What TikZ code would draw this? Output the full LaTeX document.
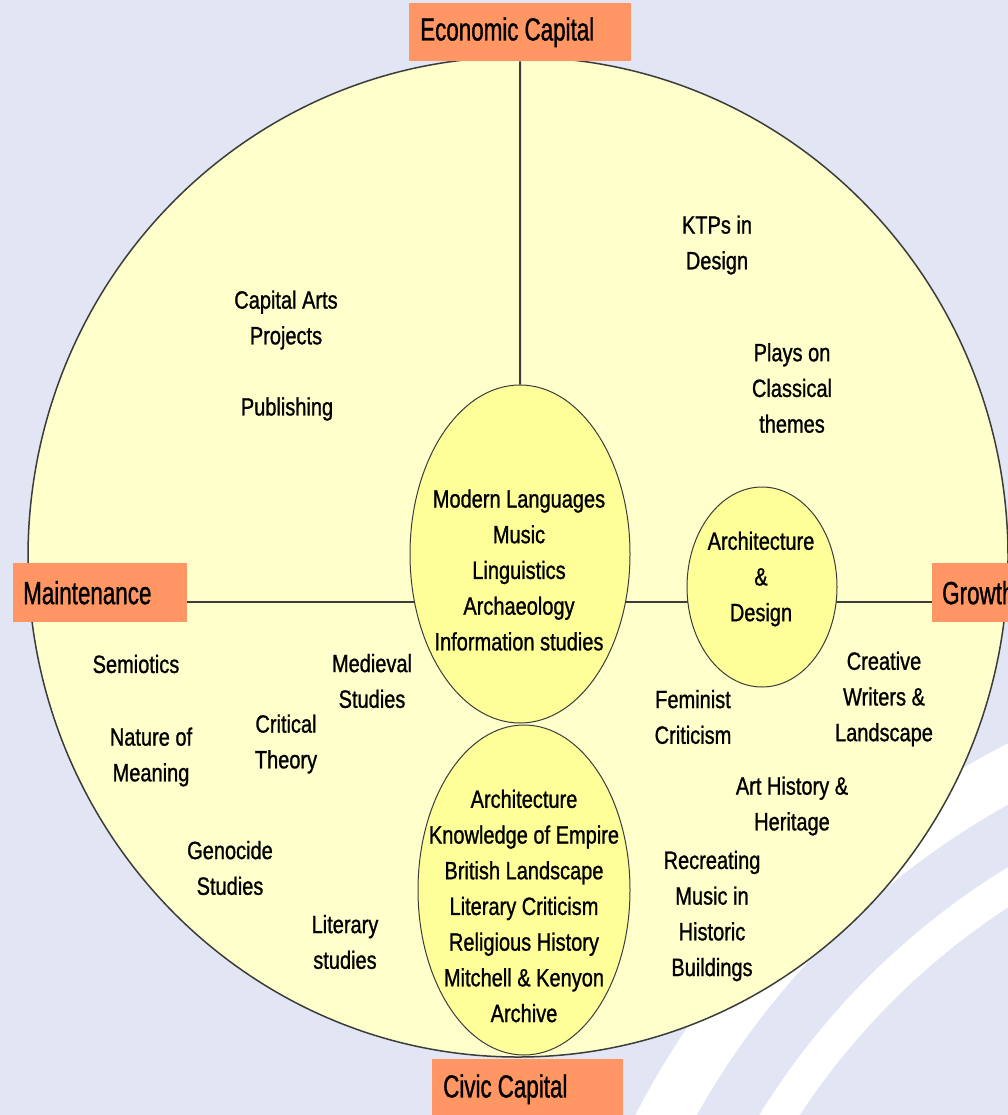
\documentclass[tikz,border=0pt]{standalone}
\usepackage{fontspec}
\newfontfamily\txtf[FakeStretch=0.8,FakeBold=1.0]{Liberation Sans}
\newfontfamily\labf[FakeStretch=0.7,FakeBold=1.0]{Liberation Sans}
\newcommand\mytxtfont{\txtf\fontsize{25}{35.7}\selectfont}
\newcommand\mylabfont{\labf\fontsize{32}{36}\selectfont}
\newcommand\lsp{\hspace{6pt}}
\usetikzlibrary{shapes.geometric}
\pgfdeclarelayer{bg}
\pgfdeclarelayer{ln}
\pgfsetlayers{bg,ln,main}
\definecolor{lav}{RGB}{226,229,243}
\definecolor{paleyel}{RGB}{255,255,204}
\definecolor{yel}{RGB}{255,255,153}
\definecolor{orng}{RGB}{255,150,100}
\definecolor{edge}{RGB}{60,60,60}
\begin{document}
\begin{tikzpicture}[x=1pt,y=-1pt,
  txt/.style={align=center,font=\mytxtfont,inner sep=0pt},
  lab/.style={fill=orng,draw=none,anchor=north west,align=left,inner ysep=0pt,
              font=\mylabfont},
  oval/.style={ellipse,fill=yel,draw=edge,line width=1pt,inner sep=0pt},
  conn/.style={draw=edge,line width=2pt}]
\useasboundingbox (0,0) rectangle (1008,1115);
\begin{pgfonlayer}{bg}
  \fill[lav] (0,0) rectangle (1008,1115);
  \begin{scope}
    \clip (0,0) rectangle (1008,1115);
    \fill[white,even odd rule] (1400,1509) circle (860) (1400,1509) circle (806);
    \fill[white,even odd rule] (1400,1509) circle (752) (1400,1509) circle (718);
  \end{scope}
  \node[ellipse,fill=paleyel,draw=edge,line width=1.5pt,minimum width=980pt,minimum height=1000pt,inner sep=0pt] (big) at (518,557) {};
\end{pgfonlayer}

% orange labels
\node[lab,minimum width=222pt,minimum height=58pt,text width=200pt,inner xsep=11pt] (econ) at (409,3) {Economic\lsp Capital};
\node[lab,minimum width=174pt,minimum height=59pt,text width=154pt,inner xsep=10pt] (maint) at (13,563) {Maintenance};
\node[lab,minimum width=90pt,minimum height=59pt,text width=70pt,inner xsep=10pt] (growth) at (932,563) {Growth};
\node[lab,minimum width=191pt,minimum height=60pt,text width=169pt,inner xsep=11pt] (civic) at (432,1059) {Civic\lsp Capital};

% ovals
\node[oval,minimum width=220pt,minimum height=338pt] (central) at (520,554) {};
\node[oval,minimum width=150pt,minimum height=200pt] (ad) at (762,587) {};
\node[oval,minimum width=212pt,minimum height=330pt] (bottom) at (524,890) {};

\coordinate (hl) at (0,602);
\begin{pgfonlayer}{ln}
  \draw[conn] (econ.south) -- (central.north);
  \draw[conn] (maint.east |- hl) -- (central.center |- hl);
  \draw[conn] (central.center |- hl) -- (ad.center |- hl);
  \draw[conn] (ad.center |- hl) -- (growth.west |- hl);
\end{pgfonlayer}

% texts
\node[txt] (ctxt) at (519,570) {Modern Languages\\Music\\Linguistics\\Archaeology\\Information studies};
\node[txt] (adtxt) at (761,579) {Architecture\\\&\\Design};
\node[txt] (btxt) at (524,906) {Architecture\\Knowledge of Empire\\British Landscape\\Literary Criticism\\Religious History\\Mitchell \& Kenyon\\Archive};

\node[txt] (t1) at (286,320) {Capital Arts\\Projects};
\node[txt] (t2) at (287,409) {Publishing};
\node[txt] (t3) at (717,245) {KTPs in\\Design};
\node[txt] (t4) at (792,388) {Plays on\\Classical\\themes};
\node[txt] (t5) at (136,664) {Semiotics};
\node[txt] (t6) at (151,757) {Nature of\\Meaning};
\node[txt] (t7) at (286,744) {Critical\\Theory};
\node[txt] (t8) at (372,681) {Medieval\\Studies};
\node[txt] (t9) at (230,868) {Genocide\\Studies};
\node[txt] (t10) at (345,942) {Literary\\studies};
\node[txt] (t11) at (693,717) {Feminist\\Criticism};
\node[txt] (t12) at (884,699) {Creative\\Writers \&\\Landscape};
\node[txt] (t13) at (792,806) {Art History \&\\Heritage};
\node[txt] (t14) at (712,916) {Recreating\\Music in\\Historic\\Buildings};
\end{tikzpicture}
\end{document}
